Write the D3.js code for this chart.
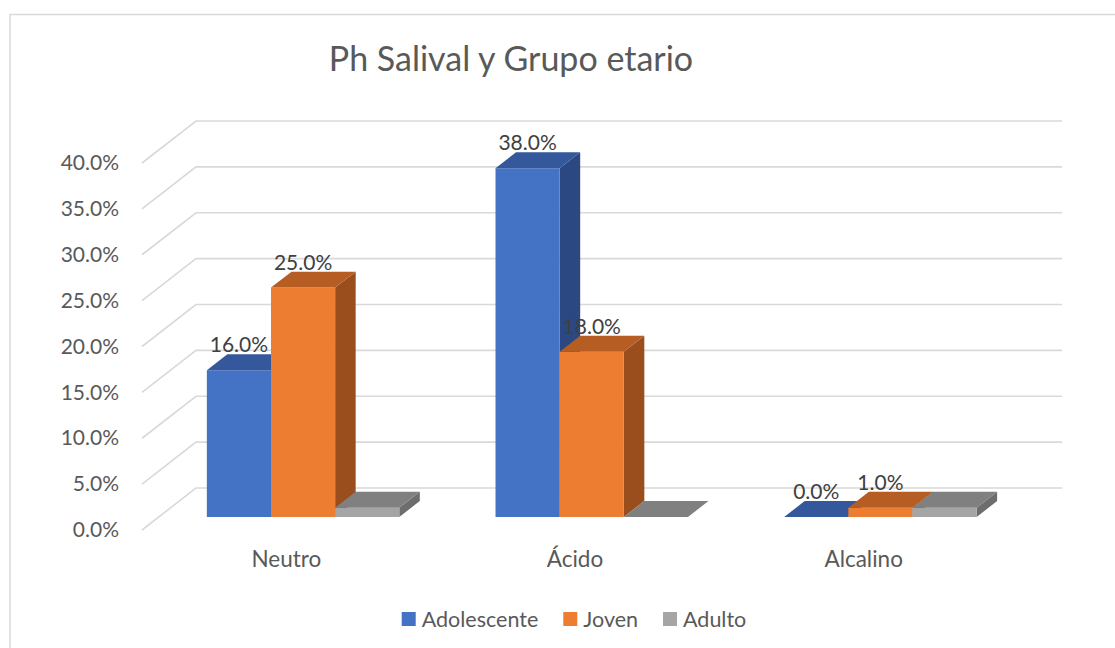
<!DOCTYPE html>
<html>
<head>
<meta charset="utf-8">
<script src="https://cdn.jsdelivr.net/npm/d3@7"></script>
<style>
    body { margin: 0; background: #fff; }
    #ph-chart { width: 1115px; height: 648px; }
    text { font-family: Lato, 'Open Sans', sans-serif; }
</style>
</head>
<body>
<div id="ph-chart"></div>
<script>
// datos del grafico
const categories = ['Neutro', 'Ácido', 'Alcalino'];
const seriesNames = ['Adolescente', 'Joven', 'Adulto'];
const adolescente = [16, 38, 0];
const joven = [25, 18, 1];
const adulto = [1, 0, 1];
const yTicks = [0, 5, 10, 15, 20, 25, 30, 35, 40];
const labelledSeries = ['Adolescente', 'Joven'];

const seriesValues = [adolescente, joven, adulto];

// colores: frente, tapa, lado
const colors = {
    Adolescente: ['#4472c4', '#34589b', '#2b4882'],
    Joven: ['#ed7d31', '#b55d23', '#9a4e1d'],
    Adulto: ['#a5a5a5', '#808080', '#6d6d6d']
};

const width = 1115;
const height = 648;

// profundidad de la vista 3D (desplazamiento oblicuo del fondo)
const DX = 54;
const DY = -42;
const Z0 = 0.31;
const Z1 = 0.69;

let svg = d3.select('#ph-chart').append('svg')
    .attr('width', width)
    .attr('height', height);

svg.append('rect')
    .attr('x', 10).attr('y', 14.5)
    .attr('width', width + 20).attr('height', height + 20)
    .attr('fill', '#fff')
    .attr('stroke', '#d9d9d9')
    .attr('stroke-width', 1.5);

const xScale = d3.scaleBand().domain(categories)
    .range([142, 1008]).paddingInner(1 / 3).paddingOuter(1 / 6);
const xInner = d3.scaleBand().domain(seriesNames).range([0, xScale.bandwidth()]);
const yScale = d3.scaleLinear().domain([0, 40]).range([530, 163]);

let proj = function (x, v, z) {
    return [x + DX * z, yScale(v) + DY * z];
};

// lineas de cuadricula: pared lateral y pared del fondo
svg.append('g').classed('grid', true).selectAll('path')
    .data(yTicks).enter().append('path')
    .attr('d', function (t) {
        let a = proj(xScale.range()[0], t, 0);
        let b = proj(xScale.range()[0], t, 1);
        let c = proj(xScale.range()[1], t, 1);
        return 'M' + a + 'L' + b + 'L' + c;
    })
    .attr('fill', 'none')
    .attr('stroke', '#d9d9d9')
    .attr('stroke-width', 1.6);

// eje y
let yAxis = d3.axisLeft(yScale).tickValues(yTicks).tickSize(0).tickPadding(23)
    .tickFormat(function (d) { return d.toFixed(1) + '%'; });
let yG = svg.append('g').attr('transform', 'translate(142,0)').call(yAxis);
yG.select('.domain').remove();
yG.selectAll('text').style('font-size', '21px').attr('fill', '#595959')
    .style('font-family', 'Lato, sans-serif');

// eje x
let xAxis = d3.axisBottom(xScale).tickSize(0).tickPadding(21);
let xG = svg.append('g').attr('transform', 'translate(0,530)').call(xAxis);
xG.select('.domain').remove();
xG.selectAll('text').style('font-size', '22.5px').attr('fill', '#595959')
    .style('font-family', 'Lato, sans-serif');

// barras 3D, de izquierda a derecha para el orden de pintado
let bars = [];
categories.forEach(function (c, ci) {
    seriesNames.forEach(function (s, si) {
        bars.push({ cat: c, series: s, value: seriesValues[si][ci] });
    });
});

let barG = svg.append('g').classed('bars', true);
bars.forEach(function (d) {
    let x0 = xScale(d.cat) + xInner(d.series);
    let x1 = x0 + xInner.bandwidth();
    let col = colors[d.series];
    let g = barG.append('g');

    let poly = function (pts) {
        return 'M' + pts.map(function (p) { return proj(p[0], p[1], p[2]); }).join('L') + 'Z';
    };

    if (d.value > 0) {
        // cara lateral
        g.append('path').attr('d', poly([[x1, 0, Z0], [x1, d.value, Z0], [x1, d.value, Z1], [x1, 0, Z1]]))
            .attr('fill', col[2]);
        // cara frontal
        g.append('path').attr('d', poly([[x0, 0, Z0], [x1, 0, Z0], [x1, d.value, Z0], [x0, d.value, Z0]]))
            .attr('fill', col[0]);
    }
    // tapa
    g.append('path').attr('d', poly([[x0, d.value, Z0], [x1, d.value, Z0], [x1, d.value, Z1], [x0, d.value, Z1]]))
        .attr('fill', col[1]);
});

// etiquetas de datos
let labelG = svg.append('g').classed('labels', true);
bars.filter(function (d) { return labelledSeries.indexOf(d.series) >= 0; })
    .forEach(function (d) {
        let cx = xScale(d.cat) + xInner(d.series) + xInner.bandwidth() / 2 + DX * Z0;
        labelG.append('text')
            .attr('x', cx)
            .attr('y', yScale(d.value) + DY * Z1 - 2)
            .attr('text-anchor', 'middle')
            .attr('fill', '#404040')
            .style('font-size', '21px')
            .text(d.value.toFixed(1) + '%');
    });

// titulo
svg.append('text')
    .attr('x', 511).attr('y', 71)
    .attr('text-anchor', 'middle')
    .attr('fill', '#595959')
    .style('font-size', '34px')
    .text('Ph Salival y Grupo etario');

// leyenda
let legend = svg.append('g').classed('legend', true);
let lx = 0;
seriesNames.forEach(function (s) {
    let item = legend.append('g').attr('transform', 'translate(' + lx + ',0)');
    item.append('rect').attr('x', 0).attr('y', -7).attr('width', 14).attr('height', 14)
        .attr('fill', colors[s][0]);
    let t = item.append('text').attr('x', 20).attr('y', 0).attr('dy', '0.35em')
        .attr('fill', '#595959').style('font-size', '21.5px').text(s);
    lx += 20 + t.node().getComputedTextLength() + 25;
});
lx -= 25;
legend.attr('transform', 'translate(' + (574 - lx / 2) + ',619)');
</script>
</body>
</html>
